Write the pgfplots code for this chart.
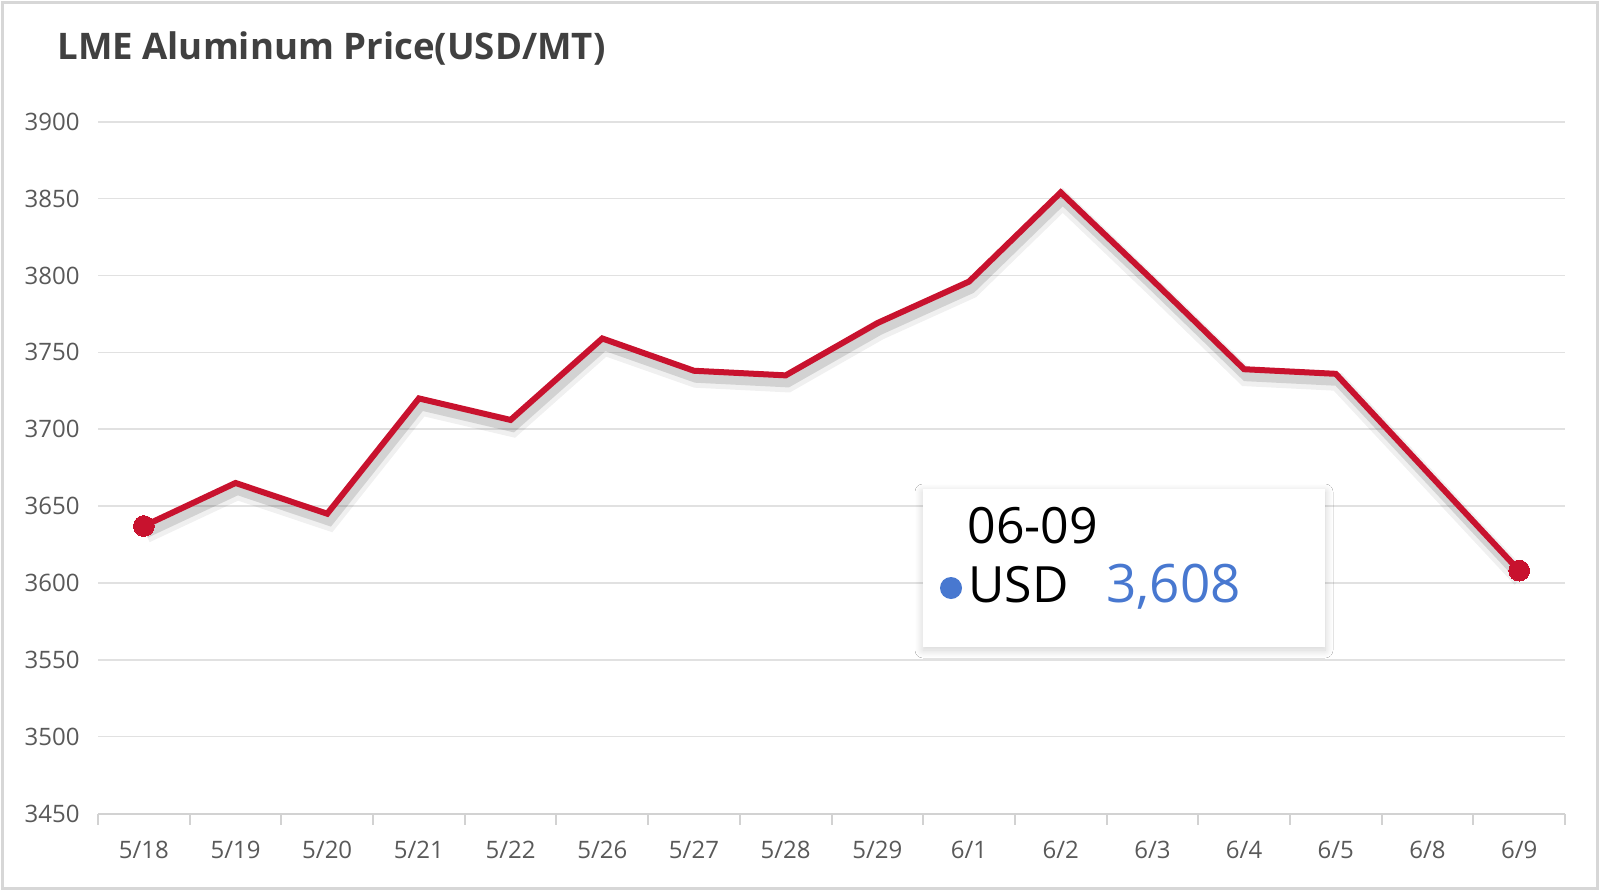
\documentclass[border=0pt]{standalone}
\usepackage{fontspec}
\setmainfont{Open Sans}
\usepackage{pgfplots}
\pgfplotsset{compat=1.18}
\usetikzlibrary{shadows.blur}
\definecolor{linered}{RGB}{200,18,46}
\definecolor{titlegray}{RGB}{64,64,64}
\definecolor{tickgray}{RGB}{89,89,89}
\definecolor{gridgray}{RGB}{225,225,225}
\definecolor{axisgray}{RGB}{210,210,210}
\definecolor{framegray}{RGB}{215,215,215}
\definecolor{tipblue}{RGB}{72,120,208}
\begin{document}
\begin{tikzpicture}
\useasboundingbox (0,0) rectangle (800pt,445.5pt);
\fill[white] (0,0) rectangle (800pt,445.5pt);
\draw[framegray, line width=1.2pt] (1.2pt,1.2pt) rectangle (798.8pt,444.3pt);
\begin{axis}[
  at={(49pt,38.75pt)}, anchor=south west,
  scale only axis, width=733.5pt, height=345.9pt,
  xmin=-0.5, xmax=15.5, ymin=3450, ymax=3900,
  ytick={3450,3500,3550,3600,3650,3700,3750,3800,3850,3900},
  yticklabels={3450,3500,3550,3600,3650,3700,3750,3800,3850,3900},
  xtick={0,...,15},
  xticklabels={5/18,5/19,5/20,5/21,5/22,5/26,5/27,5/28,5/29,6/1,6/2,6/3,6/4,6/5,6/8,6/9},
  minor xtick={-0.5,0.5,...,15.5},
  major tick length=0pt,
  minor tick length=5.5pt,
  xtick align=outside,
  axis x line*=bottom,
  axis y line*=left,
  y axis line style={draw=none},
  x axis line style={draw=axisgray, line width=1pt},
  minor x tick style={draw=axisgray, line width=1pt},
  ymajorgrids,
  grid style={draw=gridgray, line width=0.8pt},
  tick label style={font=\fontsize{12}{14}\selectfont, text=tickgray, inner sep=0pt},
  xticklabel style={anchor=base, yshift=-22.5pt},
  yticklabel style={anchor=east, xshift=-9pt},
  clip=false,
]
\addplot[draw=black, opacity=0.06, line width=9pt, xshift=1pt, yshift=-4pt, forget plot] coordinates {
(0,3637) (1,3665) (2,3645) (3,3720) (4,3706) (5,3759) (6,3738) (7,3735) (8,3769) (9,3796) (10,3854) (11,3797) (12,3739) (13,3736) (14,3672) (15,3608)};
\addplot[draw=black, opacity=0.12, line width=5pt, xshift=1pt, yshift=-3.5pt, forget plot] coordinates {
(0,3637) (1,3665) (2,3645) (3,3720) (4,3706) (5,3759) (6,3738) (7,3735) (8,3769) (9,3796) (10,3854) (11,3797) (12,3739) (13,3736) (14,3672) (15,3608)};
\addplot[draw=linered, line width=3pt, mark=*, mark size=5.2pt, mark indices={1,16}, mark options={fill=linered, draw=linered, line width=0pt}] coordinates {
(0,3637) (1,3665) (2,3645) (3,3720) (4,3706) (5,3759) (6,3738) (7,3735) (8,3769) (9,3796) (10,3854) (11,3797) (12,3739) (13,3736) (14,3672) (15,3608)};
\end{axis}
\node[anchor=base west, inner sep=0pt, text=titlegray, font=\bfseries\fontsize{18.3}{22}\selectfont] at (28.5pt,415.9pt) {LME Aluminum Price(USD/MT)};
\fill[white, blur shadow={shadow xshift=0pt, shadow yshift=-1.5pt, shadow blur radius=4pt, shadow blur steps=16, shadow opacity=18}] (461.5pt,122pt) rectangle (662.5pt,201pt);
\node[anchor=base west, inner sep=0pt, text=black, font=\fontsize{25}{30}\selectfont] at (483.5pt,174pt) {06-09};
\fill[tipblue] (475.5pt,151.5pt) circle (5.5pt);
\node[anchor=base west, inner sep=0pt, text=black, font=\fontsize{25}{30}\selectfont] at (484pt,144.2pt) {USD};
\node[anchor=base west, inner sep=0pt, text=tipblue, font=\fontsize{26.5}{30}\selectfont] at (553pt,144.2pt) {3,608};
\end{tikzpicture}
\end{document}
